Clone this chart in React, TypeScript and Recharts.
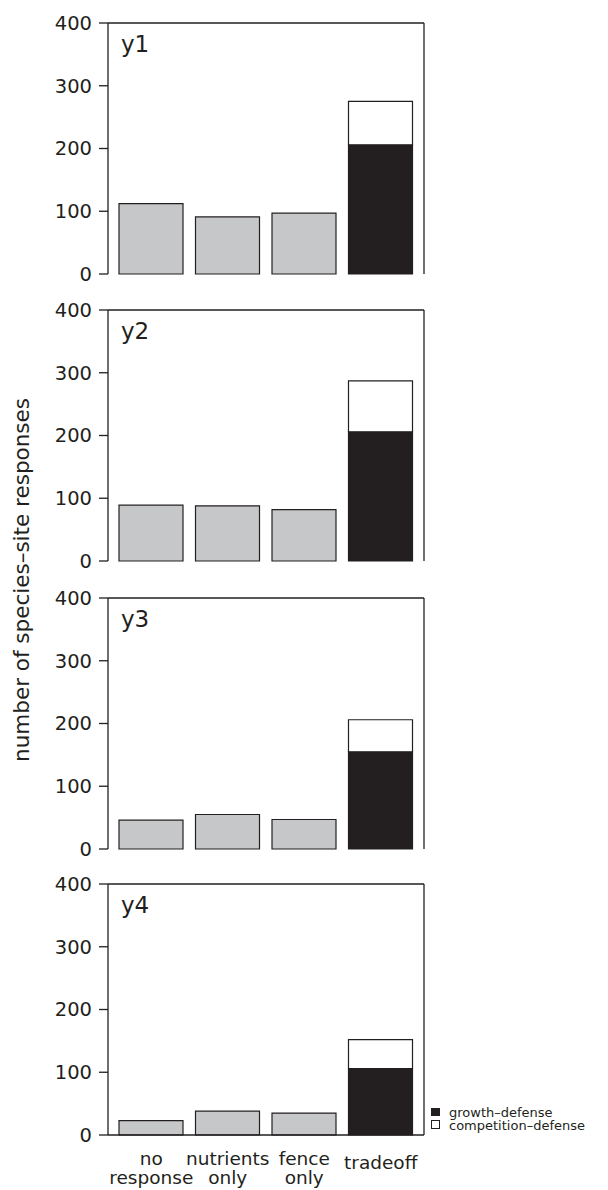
import React from "react";
import { ComposedChart, Bar, Line, XAxis, YAxis } from "recharts";

// ---------- data ----------
const categories = ["no response", "nutrients only", "fence only", "tradeoff"];
const categoryTickLines = [["no", "response"], ["nutrients", "only"], ["fence", "only"], ["tradeoff"]];
const panelLabels = ["y1", "y2", "y3", "y4"];
// values of the three single-response categories, per panel
const singleResponses = [
  [112, 91, 97],
  [89, 88, 82],
  [46, 55, 47],
  [23, 38, 35],
];
// tradeoff bar split, per panel
const growthDefense = [206, 206, 155, 106];
const competitionDefense = [69, 81, 51, 46];
const yTicks = [0, 100, 200, 300, 400];
const legendLabels = ["growth–defense", "competition–defense"];
const yAxisTitle = "number of species–site responses";

// ---------- style / layout ----------
const INK = "#231f20";
const GRAY = "#c6c7c9";
const FONT = '"DejaVu Sans", "Liberation Sans", Arial, sans-serif';
const PLOT_TOPS = [23, 310, 598, 884];
const PLOT_H = 251;
const TOP_M = 12;
const LINE_W = 1.3;

function buildRows(p: number) {
  return categories.map((cat, i) => ({
    cat,
    single: i < 3 ? singleResponses[p][i] : 0,
    growth: i === 3 ? growthDefense[p] : 0,
    competition: i === 3 ? competitionDefense[p] : 0,
  }));
}

const XTick = (props: any) => {
  const { x, y, payload } = props;
  const idx = categories.indexOf(payload.value);
  const lines = idx >= 0 ? categoryTickLines[idx] : [String(payload.value)];
  if (lines.length === 1) {
    return (
      <text x={x} y={y + 34} textAnchor="middle" fontSize={18.5} fill={INK} fontFamily={FONT}>
        {lines[0]}
      </text>
    );
  }
  return (
    <g>
      <text x={x} y={y + 30} textAnchor="middle" fontSize={18.5} fill={INK} fontFamily={FONT}>
        {lines[0]}
      </text>
      <text x={x} y={y + 49} textAnchor="middle" fontSize={18.5} fill={INK} fontFamily={FONT}>
        {lines[1]}
      </text>
    </g>
  );
};

function Panel({ p }: { p: number }) {
  const last = p === 3;
  const xAxisH = last ? 55 : 0;
  const bottomM = last ? 0 : 14;
  const height = TOP_M + PLOT_H + xAxisH + bottomM;
  const rows = buildRows(p);
  return (
    <div style={{ position: "absolute", left: 0, top: PLOT_TOPS[p] - TOP_M }}>
      <ComposedChart
        width={440}
        height={height}
        data={rows}
        margin={{ top: TOP_M - 1, right: 15, left: 0, bottom: bottomM }}
        barSize={64}
      >
        <XAxis
          dataKey="cat"
          padding={{ left: 5, right: 5 }}
          interval={0}
          tickLine={false}
          tickSize={0}
          tickMargin={0}
          height={xAxisH}
          axisLine={{ stroke: INK, strokeWidth: LINE_W }}
          tick={last ? XTick : false}
        />
        <XAxis
          xAxisId="top"
          orientation="top"
          dataKey="cat"
          height={1}
          tick={false}
          tickLine={false}
          axisLine={{ stroke: INK, strokeWidth: LINE_W }}
        />
        <YAxis
          type="number"
          domain={[0, 400]}
          ticks={yTicks}
          interval={0}
          width={108}
          tickSize={9}
          tickMargin={7}
          axisLine={{ stroke: INK, strokeWidth: LINE_W }}
          tickLine={{ stroke: INK, strokeWidth: LINE_W }}
          tick={{ fontSize: 19.5, fill: INK, fontFamily: FONT }}
        />
        <YAxis
          yAxisId="r"
          orientation="right"
          type="number"
          domain={[0, 400]}
          ticks={yTicks}
          width={1}
          tick={false}
          tickLine={false}
          axisLine={{ stroke: INK, strokeWidth: LINE_W }}
        />
        <Bar dataKey="single" stackId="s" fill={GRAY} stroke={INK} strokeWidth={1.2} isAnimationActive={false} />
        <Bar dataKey="growth" stackId="s" fill={INK} stroke={INK} strokeWidth={1.2} isAnimationActive={false} />
        <Bar dataKey="competition" stackId="s" fill="#ffffff" stroke={INK} strokeWidth={1.2} isAnimationActive={false} />
        <Line
          xAxisId="top"
          yAxisId="r"
          dataKey="competition"
          stroke="none"
          dot={false}
          activeDot={false}
          legendType="none"
          isAnimationActive={false}
        />
      </ComposedChart>
    </div>
  );
}

export default function App() {
  return (
    <div
      style={{
        position: "absolute",
        left: 0,
        top: 0,
        width: 608,
        height: 1190,
        overflow: "hidden",
        background: "#ffffff",
        fontFamily: FONT,
      }}
    >
      {panelLabels.map((_, p) => (
        <Panel key={p} p={p} />
      ))}
      <svg
        width={608}
        height={1190}
        style={{ position: "absolute", left: 0, top: 0, pointerEvents: "none" }}
      >
        <text
          transform="translate(29,580) rotate(-90)"
          textAnchor="middle"
          fontSize={21.5}
          fill={INK}
          fontFamily={FONT}
        >
          {yAxisTitle}
        </text>
        {panelLabels.map((lab, p) => (
          <text key={lab} x={121} y={PLOT_TOPS[p] + 28.5} fontSize={23} fill={INK} fontFamily={FONT}>
            {lab}
          </text>
        ))}
        <rect x={431} y={1108} width={9} height={8} fill={INK} />
        <rect x={431.5} y={1120.5} width={8} height={8} fill="#ffffff" stroke={INK} strokeWidth={1} />
        <text x={449} y={1116.5} fontSize={13} fill={INK} fontFamily={FONT}>
          {legendLabels[0]}
        </text>
        <text x={449} y={1129.5} fontSize={13} fill={INK} fontFamily={FONT}>
          {legendLabels[1]}
        </text>
      </svg>
    </div>
  );
}
